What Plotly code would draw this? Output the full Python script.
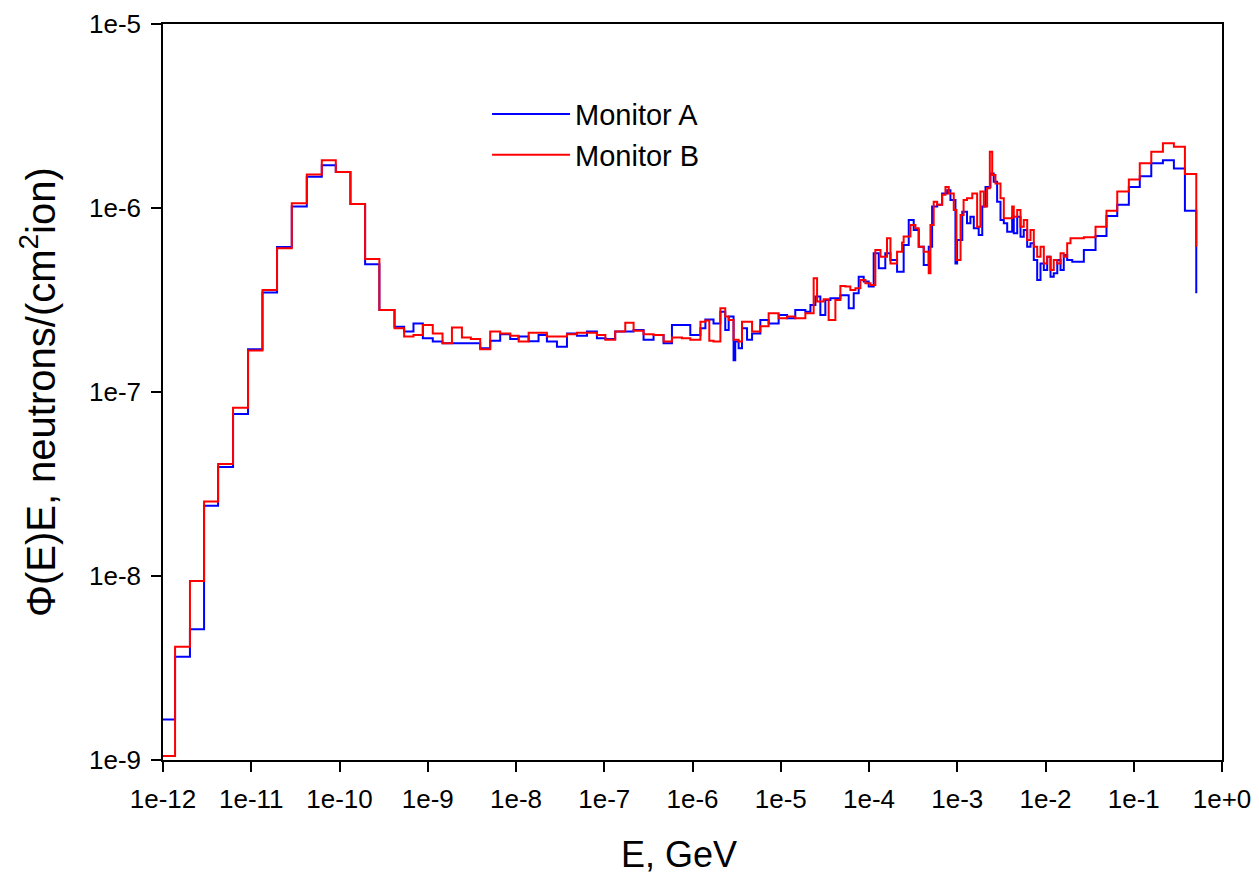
import plotly.graph_objects as go

# ---- bin edges shared by both monitors (GeV), low/thermal + epithermal part ----
E_COMMON = [1.0e-12, 1.37e-12, 2.02e-12, 2.92e-12, 4.21e-12, 6.22e-12, 9.20e-12,
            1.34e-11, 1.96e-11, 2.88e-11, 4.26e-11, 6.30e-11, 9.08e-11, 1.33e-10,
            1.95e-10, 2.83e-10, 4.2e-10, 5.40e-10, 6.89e-10, 8.80e-10, 1.14e-9,
            1.47e-9, 1.88e-9, 2.44e-9, 3.08e-9, 3.93e-9, 5.10e-9, 6.62e-9, 8.60e-9,
            1.07e-8, 1.39e-8, 1.80e-8, 2.24e-8, 2.91e-8, 3.78e-8, 4.90e-8, 6.37e-8,
            8.26e-8, 1.03e-7, 1.33e-7, 1.73e-7, 2.15e-7, 2.79e-7, 3.62e-7, 4.70e-7,
            5.85e-7, 7.60e-7, 9.44e-7]

PHI_A_COMMON = [1.66e-9, 3.64e-9, 5.13e-9, 2.41e-8, 3.91e-8, 7.59e-8, 1.71e-7, 3.47e-7,
                6.14e-7, 1.02e-6, 1.48e-6, 1.71e-6, 1.57e-6, 1.05e-6, 4.94e-7, 2.79e-7,
                2.26e-7, 2.13e-7, 2.36e-7, 1.96e-7, 1.88e-7, 1.84e-7, 1.84e-7, 1.84e-7,
                1.84e-7, 1.73e-7, 1.90e-7, 2.06e-7, 1.94e-7, 2.00e-7, 1.89e-7, 2.04e-7,
                1.88e-7, 1.76e-7, 2.08e-7, 2.02e-7, 2.13e-7, 1.96e-7, 1.94e-7, 2.13e-7,
                2.13e-7, 2.17e-7, 1.92e-7, 2.04e-7, 1.84e-7, 2.31e-7, 2.31e-7]

PHI_B_COMMON = [1.05e-9, 4.13e-9, 9.4e-9, 2.54e-8, 4.06e-8, 8.22e-8, 1.68e-7, 3.58e-7,
                6.04e-7, 1.06e-6, 1.52e-6, 1.82e-6, 1.57e-6, 1.05e-6, 5.28e-7, 2.79e-7,
                2.22e-7, 2.00e-7, 2.04e-7, 2.31e-7, 2.08e-7, 1.84e-7, 2.24e-7, 1.98e-7,
                1.94e-7, 1.71e-7, 2.13e-7, 2.08e-7, 2.02e-7, 1.88e-7, 2.10e-7, 2.10e-7,
                2.00e-7, 2.00e-7, 2.06e-7, 2.10e-7, 2.10e-7, 2.04e-7, 1.92e-7, 2.13e-7,
                2.38e-7, 2.15e-7, 2.06e-7, 2.04e-7, 1.88e-7, 1.98e-7, 1.96e-7]

# ---- fast / resonance part: right edges and values of each bin ----
E_A_HIGH = [1.23e-6, 1.40e-6, 1.73e-6, 2.07e-6, 2.35e-6, 2.57e-6, 2.92e-6, 3.05e-6,
            3.33e-6, 3.64e-6, 4.15e-6, 4.73e-6, 5.87e-6, 7.29e-6, 9.47e-6, 1.18e-5,
            1.46e-5, 1.90e-5, 2.17e-5, 2.47e-5, 2.81e-5, 3.20e-5, 3.65e-5, 4.74e-5,
            5.89e-5, 6.71e-5, 7.64e-5, 8.71e-5, 9.92e-5, 1.13e-4, 1.29e-4, 1.53e-4,
            1.75e-4, 2.08e-4, 2.47e-4, 2.82e-4, 3.21e-4, 3.66e-4, 4.17e-4, 4.75e-4,
            5.19e-4, 5.92e-4, 6.74e-4, 7.68e-4, 8.37e-4, 9.54e-4, 9.97e-4, 1.14e-3,
            1.29e-3, 1.41e-3, 1.54e-3, 1.75e-3, 1.92e-3, 2.09e-3, 2.38e-3, 2.59e-3,
            2.83e-3, 3.09e-3, 3.37e-3, 3.68e-3, 4.19e-3, 4.37e-3, 4.78e-3, 5.21e-3,
            5.67e-3, 6.20e-3, 6.76e-3, 7.37e-3, 8.05e-3, 8.78e-3, 9.57e-3, 1.045e-2,
            1.14e-2, 1.24e-2, 1.36e-2, 1.48e-2, 1.61e-2, 1.76e-2, 2.01e-2, 2.72e-2,
            3.69e-2, 4.91e-2, 6.50e-2, 8.80e-2, 0.117, 0.158, 0.214, 0.285, 0.380, 0.511]

PHI_A_HIGH = [2.04e-7, 2.22e-7, 2.48e-7, 2.36e-7, 2.73e-7, 2.17e-7, 2.57e-7, 1.49e-7,
              1.88e-7, 1.73e-7, 2.22e-7, 1.92e-7, 2.08e-7, 2.46e-7, 2.36e-7, 2.62e-7,
              2.52e-7, 2.79e-7, 2.73e-7, 2.97e-7, 3.30e-7, 2.62e-7, 3.16e-7, 3.23e-7,
              3.36e-7, 2.85e-7, 3.44e-7, 4.23e-7, 3.98e-7, 3.75e-7, 5.67e-7, 4.70e-7,
              5.67e-7, 5.22e-7, 4.5e-7, 6.3e-7, 8.60e-7, 7.59e-7, 6.16e-7, 4.90e-7,
              6.16e-7, 1.02e-6, 1.04e-6, 1.20e-6, 1.25e-6, 1.105e-6, 5.00e-7, 6.70e-7,
              9.55e-7, 8.26e-7, 8.97e-7, 7.75e-7, 7.13e-7, 1.02e-6, 1.30e-6, 1.54e-6,
              1.39e-6, 1.08e-6, 8.60e-7, 8.26e-7, 7.43e-7, 9.0e-7, 7.29e-7, 8.97e-7,
              6.98e-7, 7.59e-7, 6.16e-7, 6.43e-7, 5.22e-7, 4.06e-7, 5.00e-7, 4.60e-7,
              5.44e-7, 4.23e-7, 4.42e-7, 5.22e-7, 4.60e-7, 5.55e-7, 5.22e-7, 5.11e-7,
              5.91e-7, 7.04e-7, 9.05e-7, 1.04e-6, 1.30e-6, 1.49e-6, 1.75e-6, 1.82e-6,
              1.64e-6, 9.67e-7]
PHI_A_END = 3.44e-7

E_B_HIGH = [1.23e-6, 1.40e-6, 1.55e-6, 1.73e-6, 2.07e-6, 2.35e-6, 2.57e-6, 2.92e-6,
            3.33e-6, 3.64e-6, 4.73e-6, 5.87e-6, 7.29e-6, 9.47e-6, 1.18e-5, 1.46e-5,
            1.90e-5, 2.36e-5, 2.58e-5, 3.06e-5, 3.49e-5, 4.16e-5, 4.74e-5, 5.40e-5,
            6.15e-5, 7.01e-5, 7.99e-5, 9.10e-5, 1.04e-4, 1.18e-4, 1.35e-4, 1.60e-4,
            1.75e-4, 2.08e-4, 2.37e-4, 2.47e-4, 2.95e-4, 3.36e-4, 3.66e-4, 4.17e-4,
            4.75e-4, 4.97e-4, 5.41e-4, 5.92e-4, 6.74e-4, 7.35e-4, 8.01e-4, 9.13e-4,
            9.79e-4, 1.09e-3, 1.18e-3, 1.29e-3, 1.48e-3, 1.68e-3, 1.83e-3, 2.00e-3,
            2.18e-3, 2.34e-3, 2.49e-3, 2.71e-3, 3.09e-3, 3.37e-3, 4.19e-3, 4.37e-3,
            4.78e-3, 5.21e-3, 5.67e-3, 6.20e-3, 6.76e-3, 7.37e-3, 8.05e-3, 8.78e-3,
            9.57e-3, 1.045e-2, 1.14e-2, 1.24e-2, 1.36e-2, 1.48e-2, 1.61e-2, 1.76e-2,
            1.92e-2, 2.72e-2, 3.69e-2, 4.91e-2, 6.50e-2, 8.80e-2, 0.117, 0.158, 0.214,
            0.285, 0.380, 0.511]

PHI_B_HIGH = [1.92e-7, 2.41e-7, 2.45e-7, 1.90e-7, 1.88e-7, 2.85e-7, 2.57e-7, 2.46e-7,
              1.92e-7, 1.88e-7, 2.41e-7, 2.13e-7, 2.28e-7, 2.68e-7, 2.52e-7, 2.57e-7,
              2.52e-7, 2.68e-7, 4.15e-7, 3.10e-7, 3.19e-7, 2.46e-7, 3.16e-7, 3.77e-7,
              3.75e-7, 3.58e-7, 3.66e-7, 4.06e-7, 3.90e-7, 3.82e-7, 5.91e-7, 5.44e-7,
              6.84e-7, 5.00e-7, 5.79e-7, 6.5e-7, 7.0e-7, 8.08e-7, 7.75e-7, 6.16e-7,
              5.79e-7, 4.42e-7, 8.08e-7, 1.08e-6, 1.04e-6, 1.18e-6, 1.30e-6, 1.20e-6,
              9.75e-7, 5.22e-7, 9.16e-7, 1.105e-6, 1.13e-6, 1.20e-6, 7.91e-7, 1.23e-6,
              1.02e-6, 1.28e-6, 2.02e-6, 1.51e-6, 1.36e-6, 1.13e-6, 8.79e-7, 1.02e-6,
              8.97e-7, 9.75e-7, 7.91e-7, 8.60e-7, 6.70e-7, 7.59e-7, 6.16e-7, 5.44e-7,
              6.16e-7, 5.00e-7, 5.44e-7, 4.60e-7, 5.22e-7, 5.00e-7, 5.67e-7, 5.44e-7,
              6.43e-7, 6.84e-7, 6.93e-7, 7.91e-7, 9.67e-7, 1.23e-6, 1.43e-6, 1.75e-6,
              2.02e-6, 2.25e-6, 2.15e-6, 1.53e-6]
PHI_B_END = 6.16e-7

X_TICKS = [1e-12, 1e-11, 1e-10, 1e-9, 1e-8, 1e-7, 1e-6, 1e-5, 1e-4, 1e-3, 1e-2, 1e-1, 1e0]
X_TICK_TEXT = ["1e-12", "1e-11", "1e-10", "1e-9", "1e-8", "1e-7", "1e-6", "1e-5",
               "1e-4", "1e-3", "1e-2", "1e-1", "1e+0"]
Y_TICKS = [1e-9, 1e-8, 1e-7, 1e-6, 1e-5]
Y_TICK_TEXT = ["1e-9", "1e-8", "1e-7", "1e-6", "1e-5"]

xa = E_COMMON + E_A_HIGH
ya = PHI_A_COMMON + PHI_A_HIGH + [PHI_A_END]
xb = E_COMMON + E_B_HIGH
yb = PHI_B_COMMON + PHI_B_HIGH + [PHI_B_END]

FONT = "Liberation Sans, Arial, sans-serif"

fig = go.Figure()
fig.add_trace(go.Scatter(x=xa, y=ya, mode="lines", name="Monitor A",
                         line=dict(color="#0000FF", width=2, shape="hv")))
fig.add_trace(go.Scatter(x=xb, y=yb, mode="lines", name="Monitor B",
                         line=dict(color="#FF0000", width=2, shape="hv")))

axis_common = dict(showline=True, linecolor="black", linewidth=1.5, mirror=True,
                   ticks="outside", ticklen=10, tickwidth=1.5, tickcolor="black",
                   showgrid=False, zeroline=False, automargin=False,
                   ticklabelstandoff=5, ticklabeloverflow="allow",
                   tickfont=dict(family=FONT, size=26, color="black"))

fig.update_xaxes(type="log", range=[-12, 0], tickvals=X_TICKS, ticktext=X_TICK_TEXT,
                 **axis_common)
fig.update_yaxes(type="log", range=[-9, -5], tickvals=Y_TICKS, ticktext=Y_TICK_TEXT,
                 **axis_common)

fig.add_annotation(text="E, GeV", xref="paper", yref="paper", x=0.487, y=-0.128,
                   showarrow=False, xanchor="center", yanchor="middle",
                   font=dict(family=FONT, size=36, color="black"))
fig.add_annotation(text="\u03a6(E)E, neutrons/(cm<sup>2</sup>ion)", xref="paper", yref="paper",
                   x=-0.118, y=0.50, showarrow=False, textangle=-90,
                   xanchor="center", yanchor="middle",
                   font=dict(family=FONT, size=40, color="black"))

# the page body adds an 8 px margin, so the figure is sized to fit inside it
fig.update_layout(
    width=1243, height=867,
    margin=dict(l=155, r=29, t=16, b=115, autoexpand=False),
    paper_bgcolor="white", plot_bgcolor="white",
    legend=dict(x=0.306, y=0.912, xanchor="left", yanchor="top",
                bgcolor="rgba(0,0,0,0)", itemwidth=78,
                font=dict(family=FONT, size=29, color="black"),
                tracegroupgap=0),
    showlegend=True,
)

fig.write_html("out.html")
